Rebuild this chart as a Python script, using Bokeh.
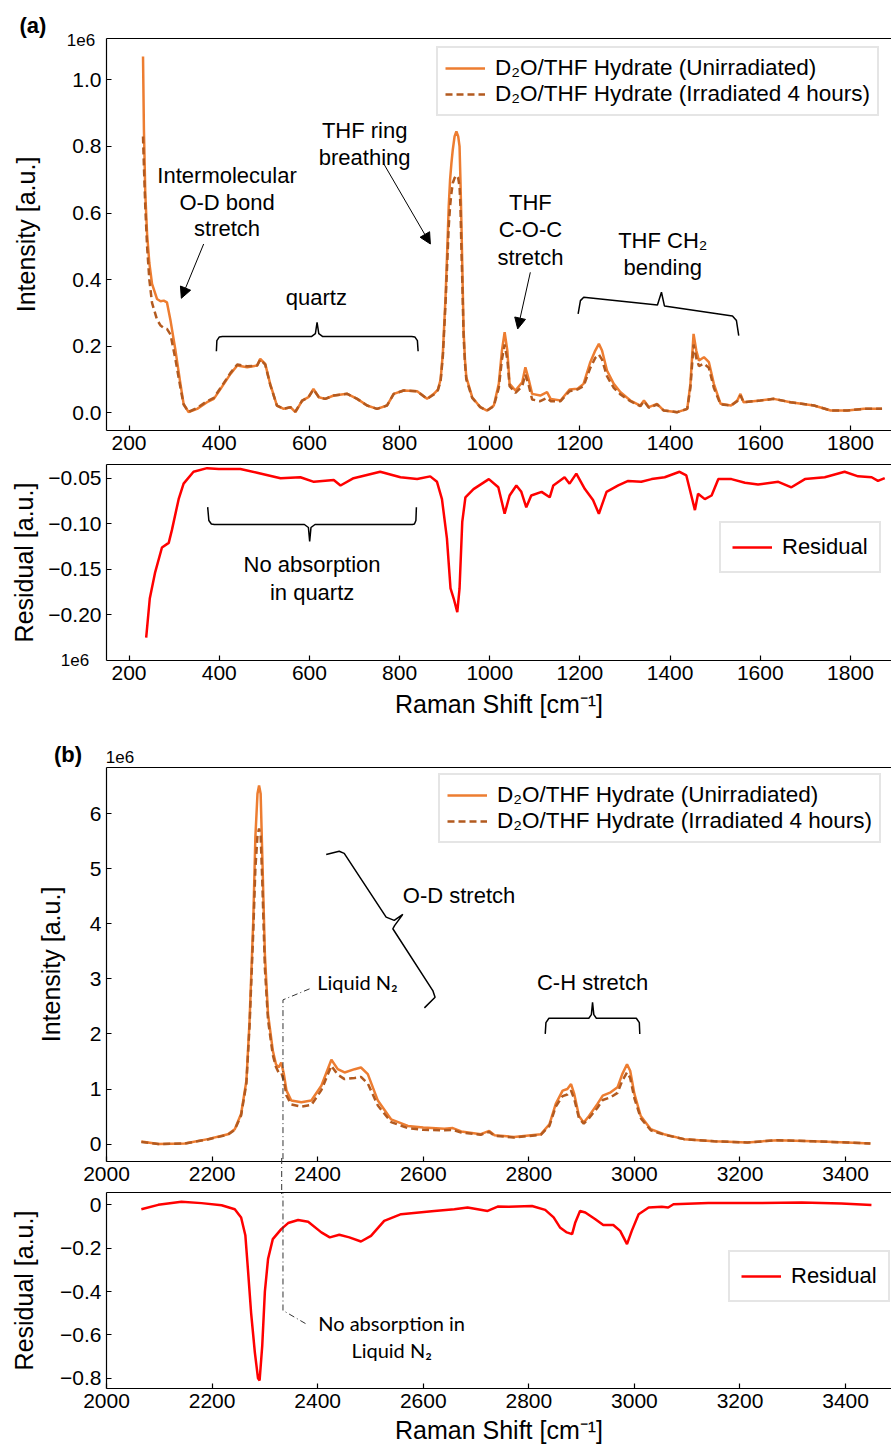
from bokeh.plotting import figure
from bokeh.layouts import column
from bokeh.models import (Range1d, FixedTicker, CustomJSTickFormatter, LinearAxis,
                          Legend, LegendItem, Label, Arrow, NormalHead, Div)
from bokeh.embed import file_html
from bokeh.resources import INLINE

FONT = "Liberation Sans"
ALT_FONT = "Lato"
ORANGE = "#ED7D31"
BROWN = "#B35A1F"
RED = "#FF0000"

# ---------------- Panel (a): 150-1900 cm-1 ----------------
a_shift = [231, 233, 236, 240, 245, 251, 262, 270, 277, 284,
           292, 303, 314, 321, 332, 351, 373, 388, 403, 425,
           440, 462, 484, 491, 502, 513, 528, 543, 558, 569,
           584, 598, 609, 621, 635, 654, 684, 706, 728, 750,
           772, 787, 809, 839, 861, 876, 885, 891, 896, 902,
           906, 909, 912, 915, 918, 922, 926, 930, 933, 935,
           937, 939, 942, 945, 948, 961, 979, 994, 1009, 1020,
           1027, 1033, 1039, 1044, 1057, 1072, 1079, 1086, 1094, 1112,
           1127, 1135, 1157, 1177, 1194, 1208, 1223, 1234, 1242, 1249,
           1260, 1275, 1290, 1312, 1334, 1342, 1353, 1371, 1386, 1416,
           1438, 1445, 1452, 1458, 1464, 1475, 1486, 1497, 1512, 1535,
           1549, 1556, 1563, 1600, 1630, 1667, 1719, 1756, 1793, 1830,
           1870]
a_unirradiated = [1.07, 0.85, 0.66, 0.537, 0.45, 0.387, 0.342, 0.335, 0.337, 0.332,
                  0.277, 0.187, 0.087, 0.027, 0.002, 0.012, 0.032, 0.042, 0.072, 0.117,
                  0.142, 0.137, 0.142, 0.162, 0.147, 0.087, 0.022, 0.012, 0.017, 0.002,
                  0.037, 0.047, 0.072, 0.047, 0.042, 0.052, 0.057, 0.042, 0.022, 0.012,
                  0.022, 0.057, 0.067, 0.065, 0.042, 0.057, 0.07, 0.10, 0.18, 0.35,
                  0.50, 0.62, 0.70, 0.75, 0.79, 0.83, 0.845, 0.83, 0.80, 0.70,
                  0.58, 0.447, 0.247, 0.16, 0.107, 0.047, 0.017, 0.007, 0.022, 0.087,
                  0.187, 0.242, 0.187, 0.087, 0.067, 0.092, 0.137, 0.102, 0.057, 0.052,
                  0.062, 0.042, 0.037, 0.07, 0.072, 0.087, 0.152, 0.187, 0.207, 0.187,
                  0.127, 0.087, 0.062, 0.037, 0.022, 0.037, 0.017, 0.027, 0.007, 0.002,
                  0.012, 0.087, 0.237, 0.187, 0.157, 0.167, 0.152, 0.087, 0.027, 0.022,
                  0.037, 0.057, 0.032, 0.037, 0.042, 0.032, 0.022, 0.007, 0.007, 0.012,
                  0.012]
a_irradiated = [0.83, 0.74, 0.62, 0.50, 0.40, 0.33, 0.28, 0.262, 0.255, 0.252,
                0.235, 0.16, 0.075, 0.025, 0.003, 0.015, 0.035, 0.045, 0.075, 0.12,
                0.145, 0.14, 0.142, 0.16, 0.145, 0.085, 0.022, 0.012, 0.017, 0.004,
                0.037, 0.047, 0.07, 0.047, 0.042, 0.052, 0.057, 0.042, 0.022, 0.012,
                0.022, 0.057, 0.067, 0.065, 0.042, 0.055, 0.068, 0.095, 0.17, 0.33,
                0.46, 0.56, 0.62, 0.66, 0.69, 0.705, 0.713, 0.705, 0.68, 0.62,
                0.50, 0.40, 0.23, 0.15, 0.10, 0.045, 0.017, 0.007, 0.02, 0.075,
                0.16, 0.205, 0.16, 0.08, 0.06, 0.08, 0.115, 0.085, 0.04, 0.035,
                0.045, 0.035, 0.035, 0.065, 0.07, 0.08, 0.135, 0.165, 0.175, 0.16,
                0.11, 0.075, 0.055, 0.035, 0.02, 0.035, 0.015, 0.025, 0.007, 0.002,
                0.012, 0.075, 0.205, 0.165, 0.14, 0.148, 0.135, 0.075, 0.025, 0.022,
                0.035, 0.052, 0.032, 0.037, 0.042, 0.032, 0.022, 0.007, 0.007, 0.012,
                0.012]

ra_shift = [238, 246, 258, 273, 288, 295, 310, 321, 343, 373,
            399, 447, 484, 536, 580, 610, 654, 669, 698, 757,
            802, 839, 868, 883, 894, 905, 913, 920, 928, 933,
            939, 946, 964, 998, 1019, 1033, 1044, 1059, 1070, 1081,
            1092, 1115, 1133, 1141, 1166, 1177, 1192, 1211, 1229, 1242,
            1259, 1285, 1307, 1336, 1359, 1388, 1421, 1436, 1447, 1455,
            1462, 1477, 1492, 1507, 1536, 1566, 1595, 1640, 1669, 1699,
            1743, 1787, 1817, 1847, 1861, 1876]
ra_residual = [-0.225, -0.182, -0.153, -0.126, -0.121, -0.107, -0.073, -0.056, -0.043, -0.039,
               -0.040, -0.040, -0.044, -0.050, -0.049, -0.054, -0.052, -0.058, -0.050, -0.043,
               -0.049, -0.051, -0.048, -0.054, -0.073, -0.116, -0.171, -0.182, -0.197, -0.171,
               -0.098, -0.071, -0.062, -0.051, -0.060, -0.089, -0.069, -0.058, -0.065, -0.082,
               -0.069, -0.065, -0.071, -0.058, -0.049, -0.056, -0.045, -0.062, -0.074, -0.089,
               -0.065, -0.058, -0.053, -0.054, -0.051, -0.049, -0.043, -0.047, -0.069, -0.085,
               -0.067, -0.073, -0.069, -0.051, -0.051, -0.055, -0.057, -0.054, -0.060, -0.051,
               -0.049, -0.043, -0.048, -0.049, -0.053, -0.050]

# ---------------- Panel (b): 2000-3500 cm-1 ----------------
b_shift = [2066, 2098, 2148, 2192, 2230, 2243, 2255, 2265, 2271, 2278,
           2282, 2286, 2289, 2292, 2295, 2300, 2306, 2315, 2321, 2326,
           2331, 2336, 2341, 2350, 2369, 2388, 2407, 2426, 2438, 2451,
           2470, 2482, 2495, 2514, 2539, 2571, 2600, 2640, 2656, 2672,
           2709, 2725, 2735, 2772, 2823, 2839, 2851, 2864, 2873, 2880,
           2886, 2895, 2904, 2914, 2930, 2940, 2955, 2968, 2977, 2986,
           2992, 3000, 3012, 3031, 3056, 3094, 3151, 3214, 3271, 3340,
           3403, 3447]
b_unirradiated = [0.047, 0.0, 0.01, 0.09, 0.18, 0.27, 0.55, 1.15, 2.24, 4.06,
                  5.57, 6.36, 6.51, 6.36, 5.27, 3.45, 2.36, 1.70, 1.45, 1.39,
                  1.48, 1.27, 0.97, 0.79, 0.76, 0.79, 1.06, 1.53, 1.36, 1.30,
                  1.36, 1.39, 1.27, 0.79, 0.45, 0.33, 0.30, 0.28, 0.29, 0.23,
                  0.18, 0.24, 0.16, 0.13, 0.18, 0.36, 0.73, 0.97, 1.00, 1.09,
                  0.91, 0.51, 0.39, 0.51, 0.73, 0.88, 0.94, 1.03, 1.27, 1.45,
                  1.33, 0.91, 0.51, 0.27, 0.18, 0.09, 0.05, 0.03, 0.07, 0.05,
                  0.03, 0.01]
b_irradiated = [0.04, 0.0, 0.01, 0.085, 0.17, 0.26, 0.52, 1.10, 2.15, 3.85,
                5.0, 5.6, 5.73, 5.6, 4.8, 3.2, 2.25, 1.62, 1.40, 1.30,
                1.30, 1.15, 0.88, 0.72, 0.68, 0.71, 0.98, 1.42, 1.26, 1.18,
                1.20, 1.22, 1.10, 0.70, 0.40, 0.29, 0.26, 0.25, 0.26, 0.21,
                0.17, 0.22, 0.15, 0.12, 0.17, 0.33, 0.68, 0.87, 0.90, 0.97,
                0.82, 0.47, 0.37, 0.47, 0.66, 0.80, 0.85, 0.93, 1.15, 1.30,
                1.20, 0.83, 0.47, 0.25, 0.17, 0.09, 0.05, 0.03, 0.07, 0.05,
                0.03, 0.01]

rb_shift = [2066, 2098, 2142, 2180, 2218, 2243, 2255, 2263, 2268, 2274,
            2281, 2287, 2290, 2295, 2300, 2306, 2315, 2331, 2344, 2363,
            2382, 2407, 2423, 2441, 2460, 2482, 2501, 2526, 2558, 2621,
            2659, 2684, 2722, 2741, 2762, 2806, 2831, 2847, 2859, 2872,
            2882, 2888, 2897, 2907, 2926, 2941, 2960, 2973, 2986, 2995,
            3008, 3027, 3052, 3064, 3074, 3140, 3235, 3317, 3392, 3449]
rb_residual = [-0.02, 0.0, 0.014, 0.008, -0.002, -0.02, -0.058, -0.14, -0.30, -0.50,
               -0.68, -0.80, -0.81, -0.65, -0.40, -0.25, -0.158, -0.112, -0.084, -0.070,
               -0.078, -0.127, -0.150, -0.138, -0.150, -0.169, -0.143, -0.074, -0.043, -0.028,
               -0.020, -0.012, -0.028, -0.008, -0.009, -0.005, -0.023, -0.058, -0.104, -0.127,
               -0.135, -0.081, -0.028, -0.035, -0.066, -0.093, -0.093, -0.12, -0.181, -0.12,
               -0.043, -0.012, -0.009, -0.012, 0.003, 0.008, 0.008, 0.011, 0.006, -0.001]

# tick labels
a_xticks = [200, 400, 600, 800, 1000, 1200, 1400, 1600, 1800]
b_xticks = [2000, 2200, 2400, 2600, 2800, 3000, 3200, 3400]
a_yticks = [0.0, 0.2, 0.4, 0.6, 0.8, 1.0]
ra_yticks = [-0.20, -0.15, -0.10, -0.05]
b_yticks = [0, 1, 2, 3, 4, 5, 6]
rb_yticks = [-0.8, -0.6, -0.4, -0.2, 0.0]

LABEL_U = "D\u2082O/THF Hydrate (Unirradiated)"
LABEL_I = "D\u2082O/THF Hydrate (Irradiated 4 hours)"


def base_fig(height, xr, yr, top, bottom, left, xticks, yticks, yfmt, ylabel,
             ylabel_standoff, xlabel=None, xlabel_standoff=5):
    p = figure(width=891, height=height, x_range=Range1d(*xr), y_range=Range1d(*yr),
               output_backend="svg", toolbar_location=None,
               min_border_left=left, min_border_right=0,
               min_border_top=top, min_border_bottom=bottom)
    p.outline_line_color = None
    p.xgrid.visible = False
    p.ygrid.visible = False
    for ax in (p.xaxis[0], p.yaxis[0]):
        ax.major_tick_in = 5
        ax.major_tick_out = 0
        ax.minor_tick_in = 0
        ax.minor_tick_out = 0
        ax.axis_line_color = "black"
        ax.axis_line_width = 1.2
        ax.major_tick_line_width = 1.2
        ax.major_label_text_font = FONT
        ax.major_label_text_font_size = "21px"
        ax.major_label_text_color = "black"
        ax.axis_label_text_font = FONT
        ax.axis_label_text_font_size = "25px"
        ax.axis_label_text_font_style = "normal"
        ax.axis_label_text_color = "black"
        ax.major_label_standoff = 5
    p.xaxis[0].ticker = FixedTicker(ticks=xticks)
    p.yaxis[0].ticker = FixedTicker(ticks=yticks)
    p.yaxis[0].formatter = CustomJSTickFormatter(code=yfmt)
    p.yaxis[0].axis_label = ylabel
    p.yaxis[0].axis_label_standoff = ylabel_standoff
    if xlabel:
        p.xaxis[0].axis_label = xlabel
        p.xaxis[0].axis_label_standoff = xlabel_standoff
    top_ax = LinearAxis(ticker=FixedTicker(ticks=[]), major_tick_in=0, major_tick_out=0,
                        minor_tick_in=0, minor_tick_out=0, axis_line_color="black",
                        axis_line_width=1.2, major_label_standoff=0)
    p.add_layout(top_ax, "above")
    return p


def text(p, x, y, s, size="22px", font=FONT, align="center", style="normal"):
    p.add_layout(Label(x=x, y=y, text=s, x_units="data", y_units="data",
                       text_font=font, text_font_size=size, text_align=align,
                       text_baseline="middle", text_font_style=style, text_color="black"))


def arrow(p, x0, y0, x1, y1):
    p.add_layout(Arrow(end=NormalHead(size=11, fill_color="black", line_color="black", line_width=1),
                       x_start=x0, y_start=y0, x_end=x1, y_end=y1,
                       line_color="black", line_width=1))


def legend(p, items, loc, padding, spacing, size="22px"):
    leg = Legend(items=items, location=loc, margin=0,
                 label_text_font=FONT, label_text_font_size=size, label_text_color="black",
                 glyph_width=40, glyph_height=20, label_height=20, label_standoff=10,
                 padding=padding, spacing=spacing,
                 border_line_color="#cccccc", border_line_width=2,
                 background_fill_color="white", background_fill_alpha=0.85)
    p.add_layout(leg)


FMT1 = "return tick.toFixed(1);"
FMT2N = "return (tick < 0 ? '\u2212' : '') + Math.abs(tick).toFixed(2);"
FMT0 = "return tick.toFixed(0);"
FMT1N = "if (Math.abs(tick) < 1e-9) { return '0'; } return (tick < 0 ? '\u2212' : '') + Math.abs(tick).toFixed(1);"

XLABEL = "Raman Shift [cm\u207b\u00b9]"

# ---- (a) intensity ----
pa = base_fig(464, (150, 1891), (-0.053, 1.124), 38, 34, 106, a_xticks, a_yticks, FMT1,
              "Intensity [a.u.]", 29)
r1 = pa.line(a_shift, a_unirradiated, line_color=ORANGE, line_width=2.5)
r2 = pa.line(a_shift, a_irradiated, line_color=BROWN, line_width=2.5, line_dash="7 4")
legend(pa, [LegendItem(label=LABEL_U, renderers=[r1]), LegendItem(label=LABEL_I, renderers=[r2])],
       (330, 314), 7, 0, "22.5px")
text(pa, 417.4, 0.7126, "Intermolecular")
text(pa, 417.4, 0.6324, "O-D bond")
text(pa, 417.4, 0.5526, "stretch")
text(pa, 722.6, 0.8477, "THF ring")
text(pa, 722.6, 0.7676, "breathing")
text(pa, 615.5, 0.3471, "quartz")
text(pa, 1090.2, 0.6324, "THF")
text(pa, 1090.2, 0.5495, "C-O-C")
text(pa, 1090.2, 0.4673, "stretch")
text(pa, 1383.7, 0.5174, "THF CH\u2082")
text(pa, 1383.7, 0.4372, "bending")
arrow(pa, 365.5, 0.507, 316.0, 0.344)
arrow(pa, 764.8, 0.748, 868.3, 0.507)
arrow(pa, 1090.0, 0.422, 1062.0, 0.252)
pa.line([393.7, 394.8, 400.3, 407.0, 604.4, 613.3, 617.0, 620.8, 629.7, 827.1, 833.8, 839.5, 841.1],
        [0.185, 0.217, 0.228, 0.229, 0.229, 0.238, 0.272, 0.238, 0.229, 0.229, 0.228, 0.217, 0.185],
        line_color="black", line_width=1.5)
pa.line([1196.0, 1201.1, 1208.4, 1371.9, 1380.8, 1387.4, 1538.3, 1547.1, 1552.2],
        [0.297, 0.337, 0.347, 0.324, 0.362, 0.321, 0.291, 0.277, 0.232],
        line_color="black", line_width=1.5)

# ---- (a) residual ----
pra = base_fig(261, (150, 1891), (-0.250, -0.035), 0, 65, 106, a_xticks, ra_yticks, FMT2N,
               "Residual [a.u.]", 7, XLABEL, 7)
r3 = pra.line(ra_shift, ra_residual, line_color=RED, line_width=2.5)
legend(pra, [LegendItem(label="Residual", renderers=[r3])], (613, 87), 11, 0)
text(pra, 606.0, -0.1446, "No absorption")
text(pra, 606.0, -0.1750, "in quartz")
pra.line([374.4, 377.0, 382.6, 389.2, 588.9, 597.8, 600.6, 603.5, 612.4, 828.4, 832.9, 836.2, 837.3],
         [-0.0818, -0.0964, -0.1002, -0.1008, -0.1008, -0.1041, -0.1194, -0.1041, -0.1008, -0.1008,
          -0.1002, -0.0964, -0.0818],
         line_color="black", line_width=1.5)

# ---- (b) intensity ----
pb = base_fig(467, (2000, 3487), (-0.316, 6.836), 42, 31, 105, b_xticks, b_yticks, FMT0,
              "Intensity [a.u.]", 22)
r4 = pb.line(b_shift, b_unirradiated, line_color=ORANGE, line_width=2.5)
r5 = pb.line(b_shift, b_irradiated, line_color=BROWN, line_width=2.5, line_dash="7 4")
legend(pb, [LegendItem(label=LABEL_U, renderers=[r4]), LegendItem(label=LABEL_I, renderers=[r5])],
       (332, 318), 7, 0, "22.5px")
text(pb, 2561.3, 4.515, "O-D stretch", align="left")
text(pb, 2399.2, 2.938, "Liquid N\u2082", size="20px", font=ALT_FONT, align="left")
text(pb, 2920.7, 2.938, "C-H stretch")
pb.line([2416.2, 2440.8, 2450.3, 2529.7, 2545.0, 2561.3, 2546.0, 2542.4, 2618.1, 2622.4, 2602.2],
        [5.255, 5.315, 5.278, 4.12, 4.06, 4.169, 3.97, 3.909, 2.787, 2.665, 2.473],
        line_color="black", line_width=1.5)
pb.line([2831.1, 2832.4, 2838.1, 2913.7, 2918.5, 2920.7, 2923.1, 2927.9, 3003.6, 3009.3, 3010.2],
        [2.0, 2.205, 2.284, 2.284, 2.351, 2.575, 2.351, 2.284, 2.284, 2.205, 2.0],
        line_color="black", line_width=1.5)
pb.line([2384.6, 2334.3, 2334.3], [2.818, 2.618, -0.6],
        line_color="#333333", line_width=1, line_dash="6 3 1 3")

# ---- (b) residual ----
prb = base_fig(259, (2000, 3487), (-0.847, 0.057), 0, 63, 105, b_xticks, rb_yticks, FMT1N,
               "Residual [a.u.]", 19, XLABEL, 5)
r6 = prb.line(rb_shift, rb_residual, line_color=RED, line_width=2.5)
legend(prb, [LegendItem(label="Residual", renderers=[r6])], (622, 86), 11, 0)
prb.line([2334.3, 2334.3, 2378.0], [0.2, -0.487, -0.549],
         line_color="#333333", line_width=1, line_dash="6 3 1 3")
text(prb, 2540.1, -0.544, "No absorption in", size="20px", font=ALT_FONT)
text(prb, 2540.1, -0.671, "Liquid N\u2082", size="20px", font=ALT_FONT)

# ---- texts that sit outside the plot frames (panel letters, offset texts) ----
overlay_svg = (
    '<svg xmlns="http://www.w3.org/2000/svg" width="891" height="1451" '
    'style="position:absolute;left:0;top:0;overflow:visible;pointer-events:none">'
    '<g font-family="Liberation Sans" fill="black" text-anchor="middle" dominant-baseline="central">'
    '<text x="33" y="25" font-size="22" font-weight="bold">(a)</text>'
    '<text x="81" y="40" font-size="17">1e6</text>'
    '<text x="75" y="660" font-size="17">1e6</text>'
    '<text x="68" y="754" font-size="22" font-weight="bold">(b)</text>'
    '<text x="120" y="757" font-size="17">1e6</text>'
    '</g>'
    '<line x1="281.7" y1="1158" x2="281.7" y2="1194" stroke="#333333" stroke-width="1" '
    'stroke-dasharray="6 3 1 3"/>'
    '</svg>'
)
overlay = Div(text=overlay_svg, width=891, height=1451, margin=0,
              styles={"position": "absolute", "left": "0px", "top": "0px",
                      "overflow": "visible", "pointer-events": "none", "z-index": "10"})

layout = column(pa, pra, pb, prb, overlay, spacing=0)
open("out.html", "w", encoding="utf-8").write(file_html(layout, INLINE))
